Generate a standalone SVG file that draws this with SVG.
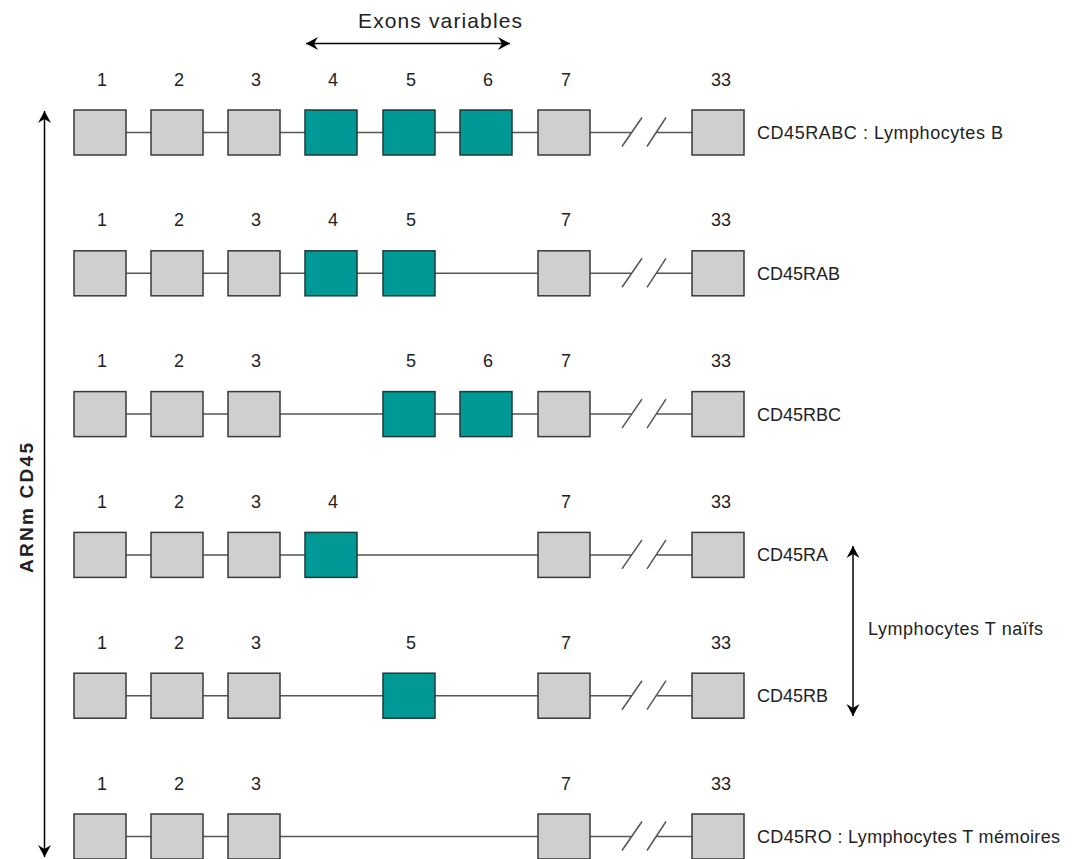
<svg xmlns="http://www.w3.org/2000/svg" width="1075" height="859" viewBox="0 0 1075 859">
<style>
text{font-family:"Liberation Sans",Arial,sans-serif;fill:#222;}
.num{font-size:18px;text-anchor:middle;}
.lbl{font-size:18px;}
.ex{fill:#d0cfd0;stroke:#3a3a3a;stroke-width:1.5;}
.var{fill:#009995;stroke:#1e3a3a;stroke-width:1.5;}
.ln{stroke:#555;stroke-width:1.5;fill:none;}
.arr{stroke:#000;stroke-width:1.5;fill:none;}
</style>
<defs>
<marker id="ah" viewBox="-12 -7 13 14" refX="0" refY="0" markerWidth="13" markerHeight="14" markerUnits="userSpaceOnUse" orient="auto-start-reverse">
<path d="M0,0 L-12,-6.5 L-8,0 L-12,6.5 Z" fill="#000"/>
</marker>
</defs>
<rect width="1075" height="859" fill="#fff"/>

<g id="connectors">
<path class="ln" d="M126,132.5H538 M590,132.5H631.4 M655.9,132.5H692 M622,146.5L642,117.5 M647,146.5L666,117.5"/>
<path class="ln" d="M126,273.3H538 M590,273.3H631.4 M655.9,273.3H692 M622,287.3L642,258.3 M647,287.3L666,258.3"/>
<path class="ln" d="M126,414.1H538 M590,414.1H631.4 M655.9,414.1H692 M622,428.1L642,399.1 M647,428.1L666,399.1"/>
<path class="ln" d="M126,554.9H538 M590,554.9H631.4 M655.9,554.9H692 M622,568.9L642,539.9 M647,568.9L666,539.9"/>
<path class="ln" d="M126,695.7H538 M590,695.7H631.4 M655.9,695.7H692 M622,709.7L642,680.7 M647,709.7L666,680.7"/>
<path class="ln" d="M126,836.5H538 M590,836.5H631.4 M655.9,836.5H692 M622,850.5L642,821.5 M647,850.5L666,821.5"/>
<line class="arr" x1="306" y1="43.5" x2="510" y2="43.5" marker-start="url(#ah)" marker-end="url(#ah)"/>
<line class="arr" x1="44.5" y1="111" x2="44.5" y2="857" marker-start="url(#ah)" marker-end="url(#ah)"/>
<line class="arr" x1="853" y1="546" x2="853" y2="716" marker-start="url(#ah)" marker-end="url(#ah)"/>
</g>

<g id="title-exons"><text x="440" y="28" text-anchor="middle" style="font-size:21px" textLength="164" lengthAdjust="spacing">Exons variables</text></g>
<g id="axis-label"><text transform="translate(33,508) rotate(-90)" text-anchor="middle" style="font-size:19px;font-weight:bold" textLength="130" lengthAdjust="spacing">ARNm CD45</text></g>
<g id="naive-label"><text class="lbl" x="868" y="635" textLength="175" lengthAdjust="spacing">Lymphocytes T naïfs</text></g>

<g id="r1-e1"><text class="num" x="102" y="85.5">1</text><rect class="ex" x="74" y="110" width="52" height="45"/></g>
<g id="r1-e2"><text class="num" x="179" y="85.5">2</text><rect class="ex" x="151" y="110" width="52" height="45"/></g>
<g id="r1-e3"><text class="num" x="256" y="85.5">3</text><rect class="ex" x="228" y="110" width="52" height="45"/></g>
<g id="r1-e4"><text class="num" x="333" y="85.5">4</text><rect class="var" x="305" y="110" width="52" height="45"/></g>
<g id="r1-e5"><text class="num" x="411" y="85.5">5</text><rect class="var" x="383" y="110" width="52" height="45"/></g>
<g id="r1-e6"><text class="num" x="488" y="85.5">6</text><rect class="var" x="460" y="110" width="52" height="45"/></g>
<g id="r1-e7"><text class="num" x="566" y="85.5">7</text><rect class="ex" x="538" y="110" width="52" height="45"/></g>
<g id="r1-e33"><text class="num" x="721" y="85.5">33</text><rect class="ex" x="692" y="110" width="52" height="45"/></g>
<g id="r1-label"><text class="lbl" x="757" y="139" textLength="246" lengthAdjust="spacing">CD45RABC : Lymphocytes B</text></g>

<g id="r2-e1"><text class="num" x="102" y="226.3">1</text><rect class="ex" x="74" y="250.8" width="52" height="45"/></g>
<g id="r2-e2"><text class="num" x="179" y="226.3">2</text><rect class="ex" x="151" y="250.8" width="52" height="45"/></g>
<g id="r2-e3"><text class="num" x="256" y="226.3">3</text><rect class="ex" x="228" y="250.8" width="52" height="45"/></g>
<g id="r2-e4"><text class="num" x="333" y="226.3">4</text><rect class="var" x="305" y="250.8" width="52" height="45"/></g>
<g id="r2-e5"><text class="num" x="411" y="226.3">5</text><rect class="var" x="383" y="250.8" width="52" height="45"/></g>
<g id="r2-e7"><text class="num" x="566" y="226.3">7</text><rect class="ex" x="538" y="250.8" width="52" height="45"/></g>
<g id="r2-e33"><text class="num" x="721" y="226.3">33</text><rect class="ex" x="692" y="250.8" width="52" height="45"/></g>
<g id="r2-label"><text class="lbl" x="757" y="279.8">CD45RAB</text></g>

<g id="r3-e1"><text class="num" x="102" y="367.1">1</text><rect class="ex" x="74" y="391.6" width="52" height="45"/></g>
<g id="r3-e2"><text class="num" x="179" y="367.1">2</text><rect class="ex" x="151" y="391.6" width="52" height="45"/></g>
<g id="r3-e3"><text class="num" x="256" y="367.1">3</text><rect class="ex" x="228" y="391.6" width="52" height="45"/></g>
<g id="r3-e5"><text class="num" x="411" y="367.1">5</text><rect class="var" x="383" y="391.6" width="52" height="45"/></g>
<g id="r3-e6"><text class="num" x="488" y="367.1">6</text><rect class="var" x="460" y="391.6" width="52" height="45"/></g>
<g id="r3-e7"><text class="num" x="566" y="367.1">7</text><rect class="ex" x="538" y="391.6" width="52" height="45"/></g>
<g id="r3-e33"><text class="num" x="721" y="367.1">33</text><rect class="ex" x="692" y="391.6" width="52" height="45"/></g>
<g id="r3-label"><text class="lbl" x="757" y="420.6">CD45RBC</text></g>

<g id="r4-e1"><text class="num" x="102" y="507.9">1</text><rect class="ex" x="74" y="532.4" width="52" height="45"/></g>
<g id="r4-e2"><text class="num" x="179" y="507.9">2</text><rect class="ex" x="151" y="532.4" width="52" height="45"/></g>
<g id="r4-e3"><text class="num" x="256" y="507.9">3</text><rect class="ex" x="228" y="532.4" width="52" height="45"/></g>
<g id="r4-e4"><text class="num" x="333" y="507.9">4</text><rect class="var" x="305" y="532.4" width="52" height="45"/></g>
<g id="r4-e7"><text class="num" x="566" y="507.9">7</text><rect class="ex" x="538" y="532.4" width="52" height="45"/></g>
<g id="r4-e33"><text class="num" x="721" y="507.9">33</text><rect class="ex" x="692" y="532.4" width="52" height="45"/></g>
<g id="r4-label"><text class="lbl" x="757" y="561.4">CD45RA</text></g>

<g id="r5-e1"><text class="num" x="102" y="648.7">1</text><rect class="ex" x="74" y="673.2" width="52" height="45"/></g>
<g id="r5-e2"><text class="num" x="179" y="648.7">2</text><rect class="ex" x="151" y="673.2" width="52" height="45"/></g>
<g id="r5-e3"><text class="num" x="256" y="648.7">3</text><rect class="ex" x="228" y="673.2" width="52" height="45"/></g>
<g id="r5-e5"><text class="num" x="411" y="648.7">5</text><rect class="var" x="383" y="673.2" width="52" height="45"/></g>
<g id="r5-e7"><text class="num" x="566" y="648.7">7</text><rect class="ex" x="538" y="673.2" width="52" height="45"/></g>
<g id="r5-e33"><text class="num" x="721" y="648.7">33</text><rect class="ex" x="692" y="673.2" width="52" height="45"/></g>
<g id="r5-label"><text class="lbl" x="757" y="702.2">CD45RB</text></g>

<g id="r6-e1"><text class="num" x="102" y="789.5">1</text><rect class="ex" x="74" y="814" width="52" height="45"/></g>
<g id="r6-e2"><text class="num" x="179" y="789.5">2</text><rect class="ex" x="151" y="814" width="52" height="45"/></g>
<g id="r6-e3"><text class="num" x="256" y="789.5">3</text><rect class="ex" x="228" y="814" width="52" height="45"/></g>
<g id="r6-e7"><text class="num" x="566" y="789.5">7</text><rect class="ex" x="538" y="814" width="52" height="45"/></g>
<g id="r6-e33"><text class="num" x="721" y="789.5">33</text><rect class="ex" x="692" y="814" width="52" height="45"/></g>
<g id="r6-label"><text class="lbl" x="757" y="843" textLength="303" lengthAdjust="spacing">CD45RO : Lymphocytes T mémoires</text></g>
</svg>
